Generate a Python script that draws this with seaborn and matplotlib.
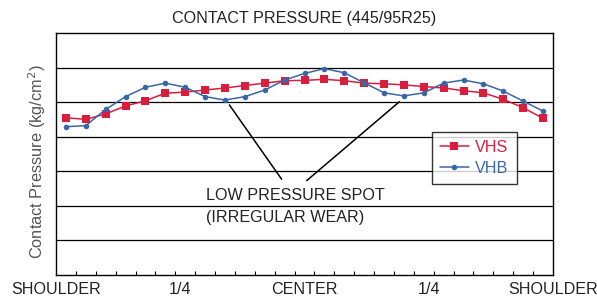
import matplotlib
matplotlib.use("Agg")
import matplotlib.pyplot as plt
import seaborn as sns
import pandas as pd
import numpy as np
from matplotlib.lines import Line2D

sns.set_theme(style="white")
plt.rcParams['font.family'] = ['Liberation Sans', 'DejaVu Sans']

# ---- data ----
positions = [i + 0.5 for i in range(25)]
vhs = [4.55, 4.50, 4.66, 4.89, 5.04, 5.26, 5.29, 5.35, 5.41, 5.48, 5.55, 5.62, 5.63,
       5.66, 5.62, 5.55, 5.53, 5.50, 5.45, 5.41, 5.33, 5.27, 5.08, 4.84, 4.53]
vhb = [4.29, 4.32, 4.79, 5.16, 5.43, 5.55, 5.43, 5.16, 5.06, 5.16, 5.35, 5.64, 5.83,
       5.97, 5.85, 5.56, 5.27, 5.18, 5.27, 5.55, 5.64, 5.53, 5.32, 5.03, 4.74]
tick_pos = [0, 6.25, 12.5, 18.75, 25]
tick_labels = ["SHOULDER", "1/4", "CENTER", "1/4", "SHOULDER"]
series_names = ["VHS", "VHB"]
title = "CONTACT PRESSURE (445/95R25)"
ylabel = "Contact Pressure (kg/cm$^2$)"
note1 = "LOW PRESSURE SPOT"
note2 = "(IRREGULAR WEAR)"

red = "#D81E3C"
blue = "#3B66A6"
fs = 11.6

df = pd.DataFrame({"pos": positions * 2,
                   "val": vhs + vhb,
                   "series": ["VHS"] * 25 + ["VHB"] * 25})

fig = plt.figure(figsize=(5.97, 2.99), dpi=100)
ax = fig.add_axes([56/597, 24/299, 497/597, 242/299])

sns.lineplot(data=df[df.series == "VHS"], x="pos", y="val", ax=ax, color=red,
             marker="s", markersize=6, markeredgewidth=0, linewidth=1.1, zorder=4)
sns.lineplot(data=df[df.series == "VHB"], x="pos", y="val", ax=ax, color=blue,
             marker="o", markersize=4, markeredgewidth=0, linewidth=1.1, zorder=5)

ax.set_xlim(0, 25)
ax.set_ylim(0, 7)
for yv in range(1, 7):
    ax.axhline(yv, color="black", linewidth=0.9, zorder=1)
for s in ax.spines.values():
    s.set_color("black")
    s.set_linewidth(1.0)

ax.set_yticks([])
ax.set_xticks(tick_pos)
ax.set_xticklabels(tick_labels, fontsize=fs, color="#222222")
ax.set_xticks(range(1, 25), minor=True)
ax.tick_params(axis="x", which="major", length=0, pad=5)
ax.tick_params(axis="x", which="minor", direction="in", length=3, width=0.8,
               color="black", bottom=True)
ax.set_xlabel("")
ax.set_ylabel(ylabel, fontsize=11.8, color="#555555")
ax.yaxis.set_label_coords(-8/497, 0.47)
ax.set_title(title, fontsize=fs, color="#222222", pad=7)

# annotations
ax.text(7.55, 2.29, note1, fontsize=fs, color="#222222", va="center", ha="left")
ax.text(7.55, 1.65, note2, fontsize=fs, color="#222222", va="center", ha="left")
ax.plot([11.35, 8.72], [2.77, 4.92], color="black", linewidth=1.1, zorder=6)
ax.plot([12.61, 17.27], [2.73, 5.01], color="black", linewidth=1.1, zorder=6)

handles = [Line2D([0], [0], color=red, marker="s", markersize=6, markeredgewidth=0, lw=1.1),
           Line2D([0], [0], color=blue, marker="o", markersize=4, markeredgewidth=0, lw=1.1)]
leg = ax.legend(handles, series_names, loc="upper left",
                bbox_to_anchor=((431.7-56)/497, (275-131.7)/242),
                borderaxespad=0,
                frameon=True, fancybox=False, edgecolor="black", fontsize=fs,
                labelcolor=[red, blue], handlelength=1.8, borderpad=0.5,
                labelspacing=0.38, handletextpad=0.4)
leg.get_frame().set_linewidth(1.0)
leg.set_zorder(10)

fig.savefig("out.png", dpi=100)
